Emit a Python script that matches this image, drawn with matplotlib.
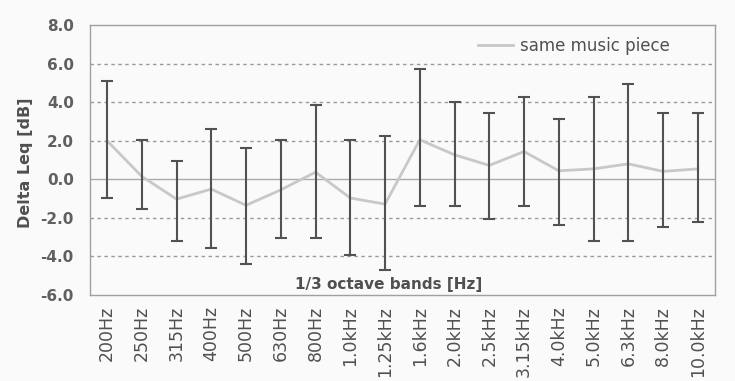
import numpy as np
import matplotlib
matplotlib.use('Agg')
import matplotlib.pyplot as plt

bands = ['200Hz', '250Hz', '315Hz', '400Hz', '500Hz', '630Hz', '800Hz',
         '1.0kHz', '1.25kHz', '1.6kHz', '2.0kHz', '2.5kHz', '3.15kHz',
         '4.0kHz', '5.0kHz', '6.3kHz', '8.0kHz', '10.0kHz']
mean_dl = [2.0, 0.15, -1.03, -0.51, -1.35, -0.55, 0.37, -0.97, -1.29,
           2.05, 1.27, 0.72, 1.44, 0.44, 0.54, 0.80, 0.41, 0.54]
upper = [5.1, 2.05, 0.94, 2.63, 1.61, 2.05, 3.88, 2.05, 2.27,
         5.74, 4.02, 3.45, 4.29, 3.12, 4.29, 4.93, 3.45, 3.42]
lower = [-0.97, -1.55, -3.19, -3.58, -4.39, -3.07, -3.07, -3.93, -4.72,
         -1.37, -1.40, -2.06, -1.37, -2.36, -3.22, -3.22, -2.50, -2.24]
yticks = np.arange(-6, 9, 2)

x = np.arange(len(bands))
mean_arr = np.array(mean_dl)
yerr = [mean_arr - np.array(lower), np.array(upper) - mean_arr]

fig = plt.figure(figsize=(7.35, 3.81), dpi=100, facecolor='#fafafa')
ax = fig.add_axes([0.122, 0.226, 0.851, 0.708])
ax.set_facecolor('#fafafa')

# grid: dashed at every 2 dB, solid zero line
for yv in [6, 4, 2, -2, -4]:
    ax.axhline(yv, color='#9a9a9a', lw=1.0, ls=(0, (2.5, 2.5)), zorder=1)
ax.axhline(0, color='#aaaaaa', lw=1.0, zorder=1)

ax.plot(x, mean_dl, color='#c8c8c8', lw=2.0, label='same music piece', zorder=2)
ax.errorbar(x, mean_dl, yerr=yerr, fmt='none', ecolor='#525252',
            elinewidth=1.5, capsize=4.5, capthick=1.5, zorder=3)

ax.set_xlim(-0.5, len(bands) - 0.5)
ax.set_ylim(-6, 8)
ax.set_yticks(yticks)
ax.set_yticklabels(['%.1f' % v for v in yticks],
                   fontsize=11, fontweight='bold', color='#606060')
ax.set_xticks(x)
ax.set_xticklabels(bands, rotation=90, fontsize=12.5, color='#505050')
ax.tick_params(axis='x', length=0, pad=8)
ax.tick_params(axis='y', length=0, pad=11.5)

for side in ax.spines.values():
    side.set_color('#a0a0a0')
    side.set_linewidth(1.0)

ax.set_ylabel('Delta Leq [dB]', fontsize=11.5, fontweight='bold', color='#505050')
ax.yaxis.set_label_coords(-0.09, 0.489)
ax.text(0.478, 0.01, '1/3 octave bands [Hz]', transform=ax.transAxes, ha='center',
        va='bottom', fontsize=11, fontweight='bold', color='#505050')

leg = ax.legend(loc='upper left', bbox_to_anchor=(0.621, 0.955), frameon=False,
                fontsize=12, handlelength=2.1, handletextpad=0.4,
                borderpad=0, borderaxespad=0)
for t in leg.get_texts():
    t.set_color('#505050')

plt.savefig('out.png', dpi=100, facecolor=fig.get_facecolor())
